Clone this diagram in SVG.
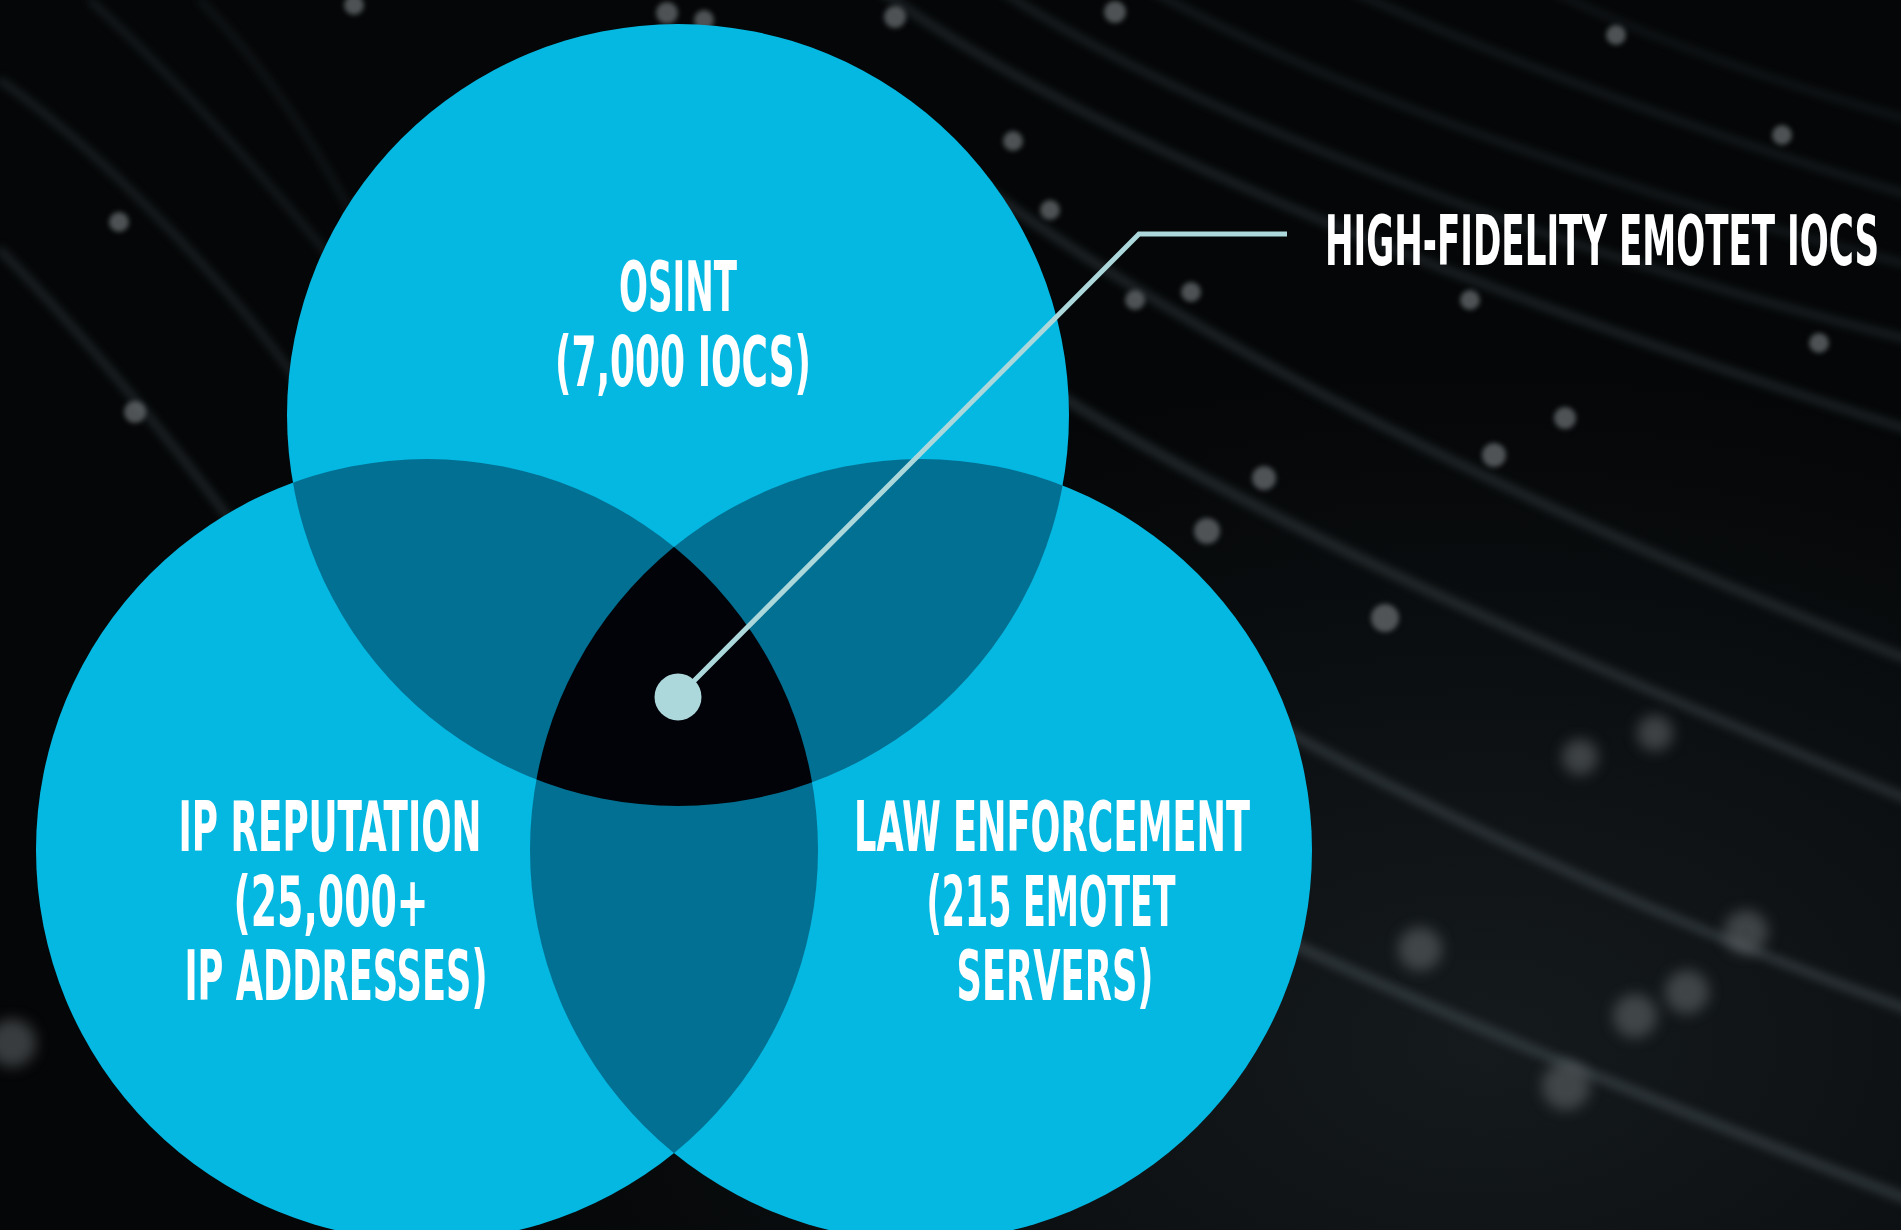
<svg xmlns="http://www.w3.org/2000/svg" width="1901" height="1230" viewBox="0 0 1901 1230">
  <defs>
    <style>
      .lbl { font-family: "Liberation Sans Narrow", "DejaVu Sans Condensed", "Liberation Sans", sans-serif; font-weight: bold; font-size: 70px; fill: #ffffff; text-anchor: middle; }
      .title { text-anchor: end; }
      .venn { fill: #05b8e2; }
      .pair { fill: #027092; }
      .core { fill: #010308; }
      .streak { fill: none; stroke: #5d6b71; stroke-linecap: round; }
      .dot { fill: #6e7376; }
    </style>
    <radialGradient id="haze" cx="0.78" cy="0.85" r="0.55">
      <stop offset="0" stop-color="#151a1d"/>
      <stop offset="1" stop-color="#040607"/>
    </radialGradient>
    <filter id="blur1" x="-20%" y="-20%" width="140%" height="140%"><feGaussianBlur stdDeviation="5"/></filter>
    <filter id="blur2" x="-50%" y="-50%" width="200%" height="200%"><feGaussianBlur stdDeviation="2.5"/></filter>
    <filter id="blur3" x="-80%" y="-80%" width="260%" height="260%"><feGaussianBlur stdDeviation="7"/></filter>
    <clipPath id="clipT"><circle cx="678" cy="415" r="391"/></clipPath>
    <clipPath id="clipL"><circle cx="427" cy="850" r="391"/></clipPath>
  </defs>

  <!-- background -->
  <rect x="0" y="0" width="1901" height="1230" fill="url(#haze)"/>
  <g id="background-streaks" filter="url(#blur1)" opacity="0.4">
    <path class="streak" stroke-width="6" d="M 880 -10 C 1100 150, 1500 300, 1910 430"/>
    <path class="streak" stroke-width="5" d="M 1000 -10 C 1200 120, 1550 250, 1910 340"/>
    <path class="streak" stroke-width="4" d="M 1150 -10 C 1350 100, 1650 200, 1910 265"/>
    <path class="streak" stroke-width="4" d="M 1350 -10 C 1500 60, 1750 150, 1910 195"/>
    <path class="streak" stroke-width="3" d="M 1550 -10 C 1650 40, 1800 90, 1910 120"/>
    <path class="streak" stroke-width="7" d="M 860 90 C 1100 300, 1500 500, 1910 660"/>
    <path class="streak" stroke-width="8" d="M 960 330 C 1200 500, 1550 650, 1910 800"/>
    <path class="streak" stroke-width="9" d="M 1060 600 C 1300 750, 1600 900, 1910 1010"/>
    <path class="streak" stroke-width="10" d="M 1160 880 C 1400 1000, 1650 1100, 1910 1200"/>
    <path class="streak" stroke-width="5" d="M 0 80 C 100 150, 250 300, 330 430"/>
    <path class="streak" stroke-width="6" d="M 0 250 C 80 330, 180 450, 260 560"/>
    <path class="streak" stroke-width="4" d="M 90 0 C 200 100, 330 250, 410 360"/>
    <path class="streak" stroke-width="3" d="M 200 0 C 260 60, 320 150, 360 230"/>
  </g>
  <g id="background-dots" filter="url(#blur2)" opacity="0.7">
    <circle class="dot" cx="119" cy="222" r="10"/>
    <circle class="dot" cx="135" cy="412" r="11"/>
    <circle class="dot" cx="354" cy="5" r="10"/>
    <circle class="dot" cx="667" cy="13" r="11"/>
    <circle class="dot" cx="704" cy="20" r="10"/>
    <circle class="dot" cx="895" cy="17" r="11"/>
    <circle class="dot" cx="1115" cy="12" r="11"/>
    <circle class="dot" cx="1013" cy="141" r="10"/>
    <circle class="dot" cx="1050" cy="210" r="10"/>
    <circle class="dot" cx="1135" cy="300" r="10"/>
    <circle class="dot" cx="1191" cy="292" r="10"/>
    <circle class="dot" cx="1470" cy="300" r="10"/>
    <circle class="dot" cx="1616" cy="35" r="10"/>
    <circle class="dot" cx="1782" cy="135" r="10"/>
    <circle class="dot" cx="1819" cy="343" r="10"/>
    <circle class="dot" cx="1565" cy="418" r="11"/>
    <circle class="dot" cx="1494" cy="455" r="12"/>
    <circle class="dot" cx="1264" cy="478" r="12"/>
    <circle class="dot" cx="1207" cy="531" r="13"/>
    <circle class="dot" cx="1385" cy="618" r="14"/>
  </g>
  <g id="background-blurred-dots" filter="url(#blur3)" opacity="0.5">
    <circle class="dot" cx="1655" cy="733" r="18"/>
    <circle class="dot" cx="1580" cy="757" r="18"/>
    <circle class="dot" cx="1420" cy="949" r="22"/>
    <circle class="dot" cx="1746" cy="932" r="22"/>
    <circle class="dot" cx="1687" cy="992" r="22"/>
    <circle class="dot" cx="1635" cy="1016" r="22"/>
    <circle class="dot" cx="1566" cy="1086" r="24"/>
    <circle class="dot" cx="12" cy="1043" r="24"/>
  </g>

  <!-- venn nodes -->
  <g id="osint">
    <circle class="venn" cx="678" cy="415" r="391"/>
  </g>
  <g id="ip-reputation">
    <circle class="venn" cx="427" cy="850" r="391"/>
  </g>
  <g id="law-enforcement">
    <circle class="venn" cx="921" cy="850" r="391"/>
  </g>
  <g id="overlaps">
    <circle class="pair" cx="427" cy="850" r="391" clip-path="url(#clipT)"/>
    <circle class="pair" cx="921" cy="850" r="391" clip-path="url(#clipT)"/>
    <circle class="pair" cx="921" cy="850" r="391" clip-path="url(#clipL)"/>
    <g clip-path="url(#clipT)">
      <circle class="core" cx="921" cy="850" r="391" clip-path="url(#clipL)"/>
    </g>
  </g>

  <g id="osint-label">
    <text class="lbl" x="678" y="311" textLength="118" lengthAdjust="spacingAndGlyphs">OSINT</text>
    <text class="lbl" x="683" y="386" textLength="256" lengthAdjust="spacingAndGlyphs">(7,000 IOCS)</text>
  </g>
  <g id="ip-reputation-label">
    <text class="lbl" x="330" y="851" textLength="303" lengthAdjust="spacingAndGlyphs">IP REPUTATION</text>
    <text class="lbl" x="331" y="926" textLength="195" lengthAdjust="spacingAndGlyphs">(25,000+</text>
    <text class="lbl" x="336" y="1000" textLength="303" lengthAdjust="spacingAndGlyphs">IP ADDRESSES)</text>
  </g>
  <g id="law-enforcement-label">
    <text class="lbl" x="1052" y="851" textLength="396" lengthAdjust="spacingAndGlyphs">LAW ENFORCEMENT</text>
    <text class="lbl" x="1051" y="926" textLength="249" lengthAdjust="spacingAndGlyphs">(215 EMOTET</text>
    <text class="lbl" x="1055" y="1000" textLength="197" lengthAdjust="spacingAndGlyphs">SERVERS)</text>
  </g>

  <!-- connectors -->
  <g id="connectors">
    <polyline points="678,697 1139,234 1287,234" fill="none" stroke="#acd8dc" stroke-width="5"/>
    <circle cx="678" cy="697" r="23.5" fill="#acd8dc"/>
  </g>

  <g id="high-fidelity-emotet-iocs">
    <text class="lbl title" x="1879" y="265" textLength="554" lengthAdjust="spacingAndGlyphs">HIGH-FIDELITY EMOTET IOCS</text>
  </g>
</svg>
